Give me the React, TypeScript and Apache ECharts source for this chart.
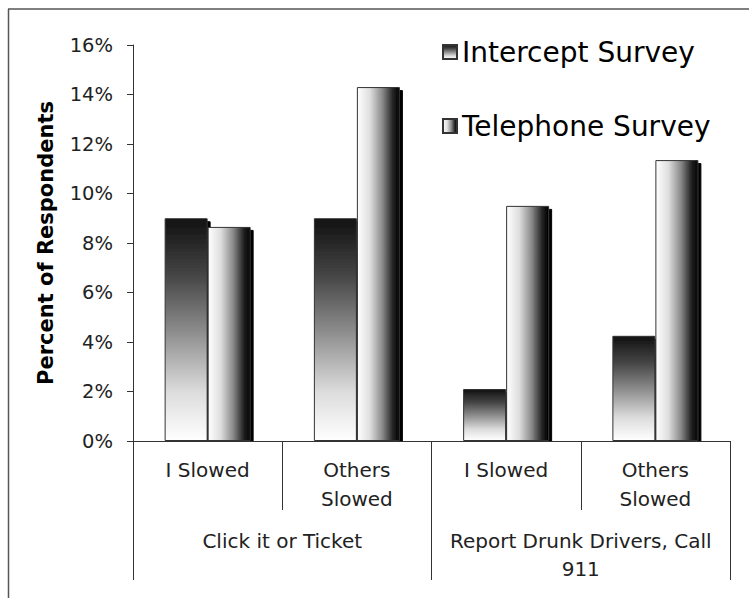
import React, { useEffect, useRef } from "react";
import * as echarts from "echarts";

const subCategories = ["I Slowed", "Others\nSlowed", "I Slowed", "Others\nSlowed"];
const groupCategories = ["Click it or Ticket", "Report Drunk Drivers, Call\n911"];
const interceptSurvey = [9.0, 9.0, 2.1, 4.25];
const telephoneSurvey = [8.65, 14.3, 9.5, 11.35];
const yTicks = [0, 2, 4, 6, 8, 10, 12, 14, 16];

const FONT = "DejaVu Sans";

export default function App() {
  const ref = useRef<HTMLDivElement>(null);
  useEffect(() => {
    if (!ref.current) return;
    const chart = echarts.init(ref.current, undefined, { renderer: "svg" });
    const vGrad = new echarts.graphic.LinearGradient(0, 0, 0, 1, [
      { offset: 0, color: "#111111" },
      { offset: 0.25, color: "#444444" },
      { offset: 0.5, color: "#8a8a8a" },
      { offset: 0.78, color: "#dcdcdc" },
      { offset: 1, color: "#ffffff" },
    ]);
    const hGrad = new echarts.graphic.LinearGradient(0, 0, 1, 0, [
      { offset: 0, color: "#ffffff" },
      { offset: 0.3, color: "#dedede" },
      { offset: 0.6, color: "#888888" },
      { offset: 0.85, color: "#222222" },
      { offset: 1, color: "#000000" },
    ]);
    chart.setOption({
      animation: false,
      backgroundColor: "#ffffff",
      graphic: [
        { type: "line", z: 1, shape: { x1: 8, y1: 9, x2: 749, y2: 9 }, style: { stroke: "#555", lineWidth: 1.5 } },
        { type: "line", z: 1, shape: { x1: 8.5, y1: 9, x2: 8.5, y2: 598 }, style: { stroke: "#555", lineWidth: 1.5 } },
        { type: "rect", z: 5, shape: { x: 134, y: 441.5, width: 600, height: 5 }, style: { fill: "#ffffff" } },
      ],
      legend: {
        orient: "vertical",
        left: 437,
        top: 33,
        itemGap: 46,
        itemWidth: 14,
        itemHeight: 14,
        icon: "rect",
        textStyle: { fontFamily: FONT, fontSize: 28, color: "#000" },
        data: ["Intercept Survey", "Telephone Survey"],
      },
      grid: { left: 133, right: 19, top: 45, bottom: 157, containLabel: false },
      xAxis: [
        {
          type: "category",
          data: subCategories,
          position: "bottom",
          z: 10,
          axisLine: { lineStyle: { color: "#333", width: 1 } },
          axisTick: { show: true, length: 69, interval: 0, lineStyle: { color: "#333" } },
          axisLabel: {
            interval: 0,
            margin: 14,
            fontFamily: FONT,
            fontSize: 20,
            color: "#222",
            lineHeight: 29,
          },
        },
        {
          type: "category",
          data: groupCategories,
          position: "bottom",
          z: 10,
          axisLine: { show: false },
          axisTick: { show: true, length: 139, interval: 0, lineStyle: { color: "#333" } },
          axisLabel: {
            interval: 0,
            margin: 86,
            fontFamily: FONT,
            fontSize: 20,
            color: "#222",
            lineHeight: 28,
          },
        },
      ],
      yAxis: {
        type: "value",
        min: 0,
        max: 16,
        interval: 2,
        z: 10,
        name: "Percent of Respondents",
        nameLocation: "middle",
        nameGap: 77,
        nameTextStyle: { fontFamily: FONT, fontSize: 21, fontWeight: "bold", color: "#000" },
        splitLine: { show: false },
        axisLine: { show: true, lineStyle: { color: "#333" } },
        axisTick: { show: true, length: 6, lineStyle: { color: "#333" } },
        axisLabel: {
          fontFamily: FONT,
          fontSize: 19.5,
          color: "#222",
          margin: 20,
          formatter: (v: number) => (yTicks.includes(v) ? `${v}%` : ""),
        },
      },
      series: [
        {
          name: "Intercept Survey",
          type: "bar",
          data: interceptSurvey,
          barWidth: 43,
          barGap: "0%",
          itemStyle: {
            color: vGrad,
            borderColor: "#333",
            borderWidth: 1,
            shadowColor: "#000",
            shadowOffsetX: 3,
            shadowOffsetY: 3,
            shadowBlur: 0,
          },
        },
        {
          name: "Telephone Survey",
          type: "bar",
          data: telephoneSurvey,
          barWidth: 43,
          barGap: "0%",
          itemStyle: {
            color: hGrad,
            borderColor: "#333",
            borderWidth: 1,
            shadowColor: "#000",
            shadowOffsetX: 3,
            shadowOffsetY: 3,
            shadowBlur: 0,
          },
        },
      ],
    });
    return () => chart.dispose();
  }, []);
  return <div ref={ref} style={{ width: 749, height: 598, position: "absolute", left: 0, top: 0 }} />;
}
